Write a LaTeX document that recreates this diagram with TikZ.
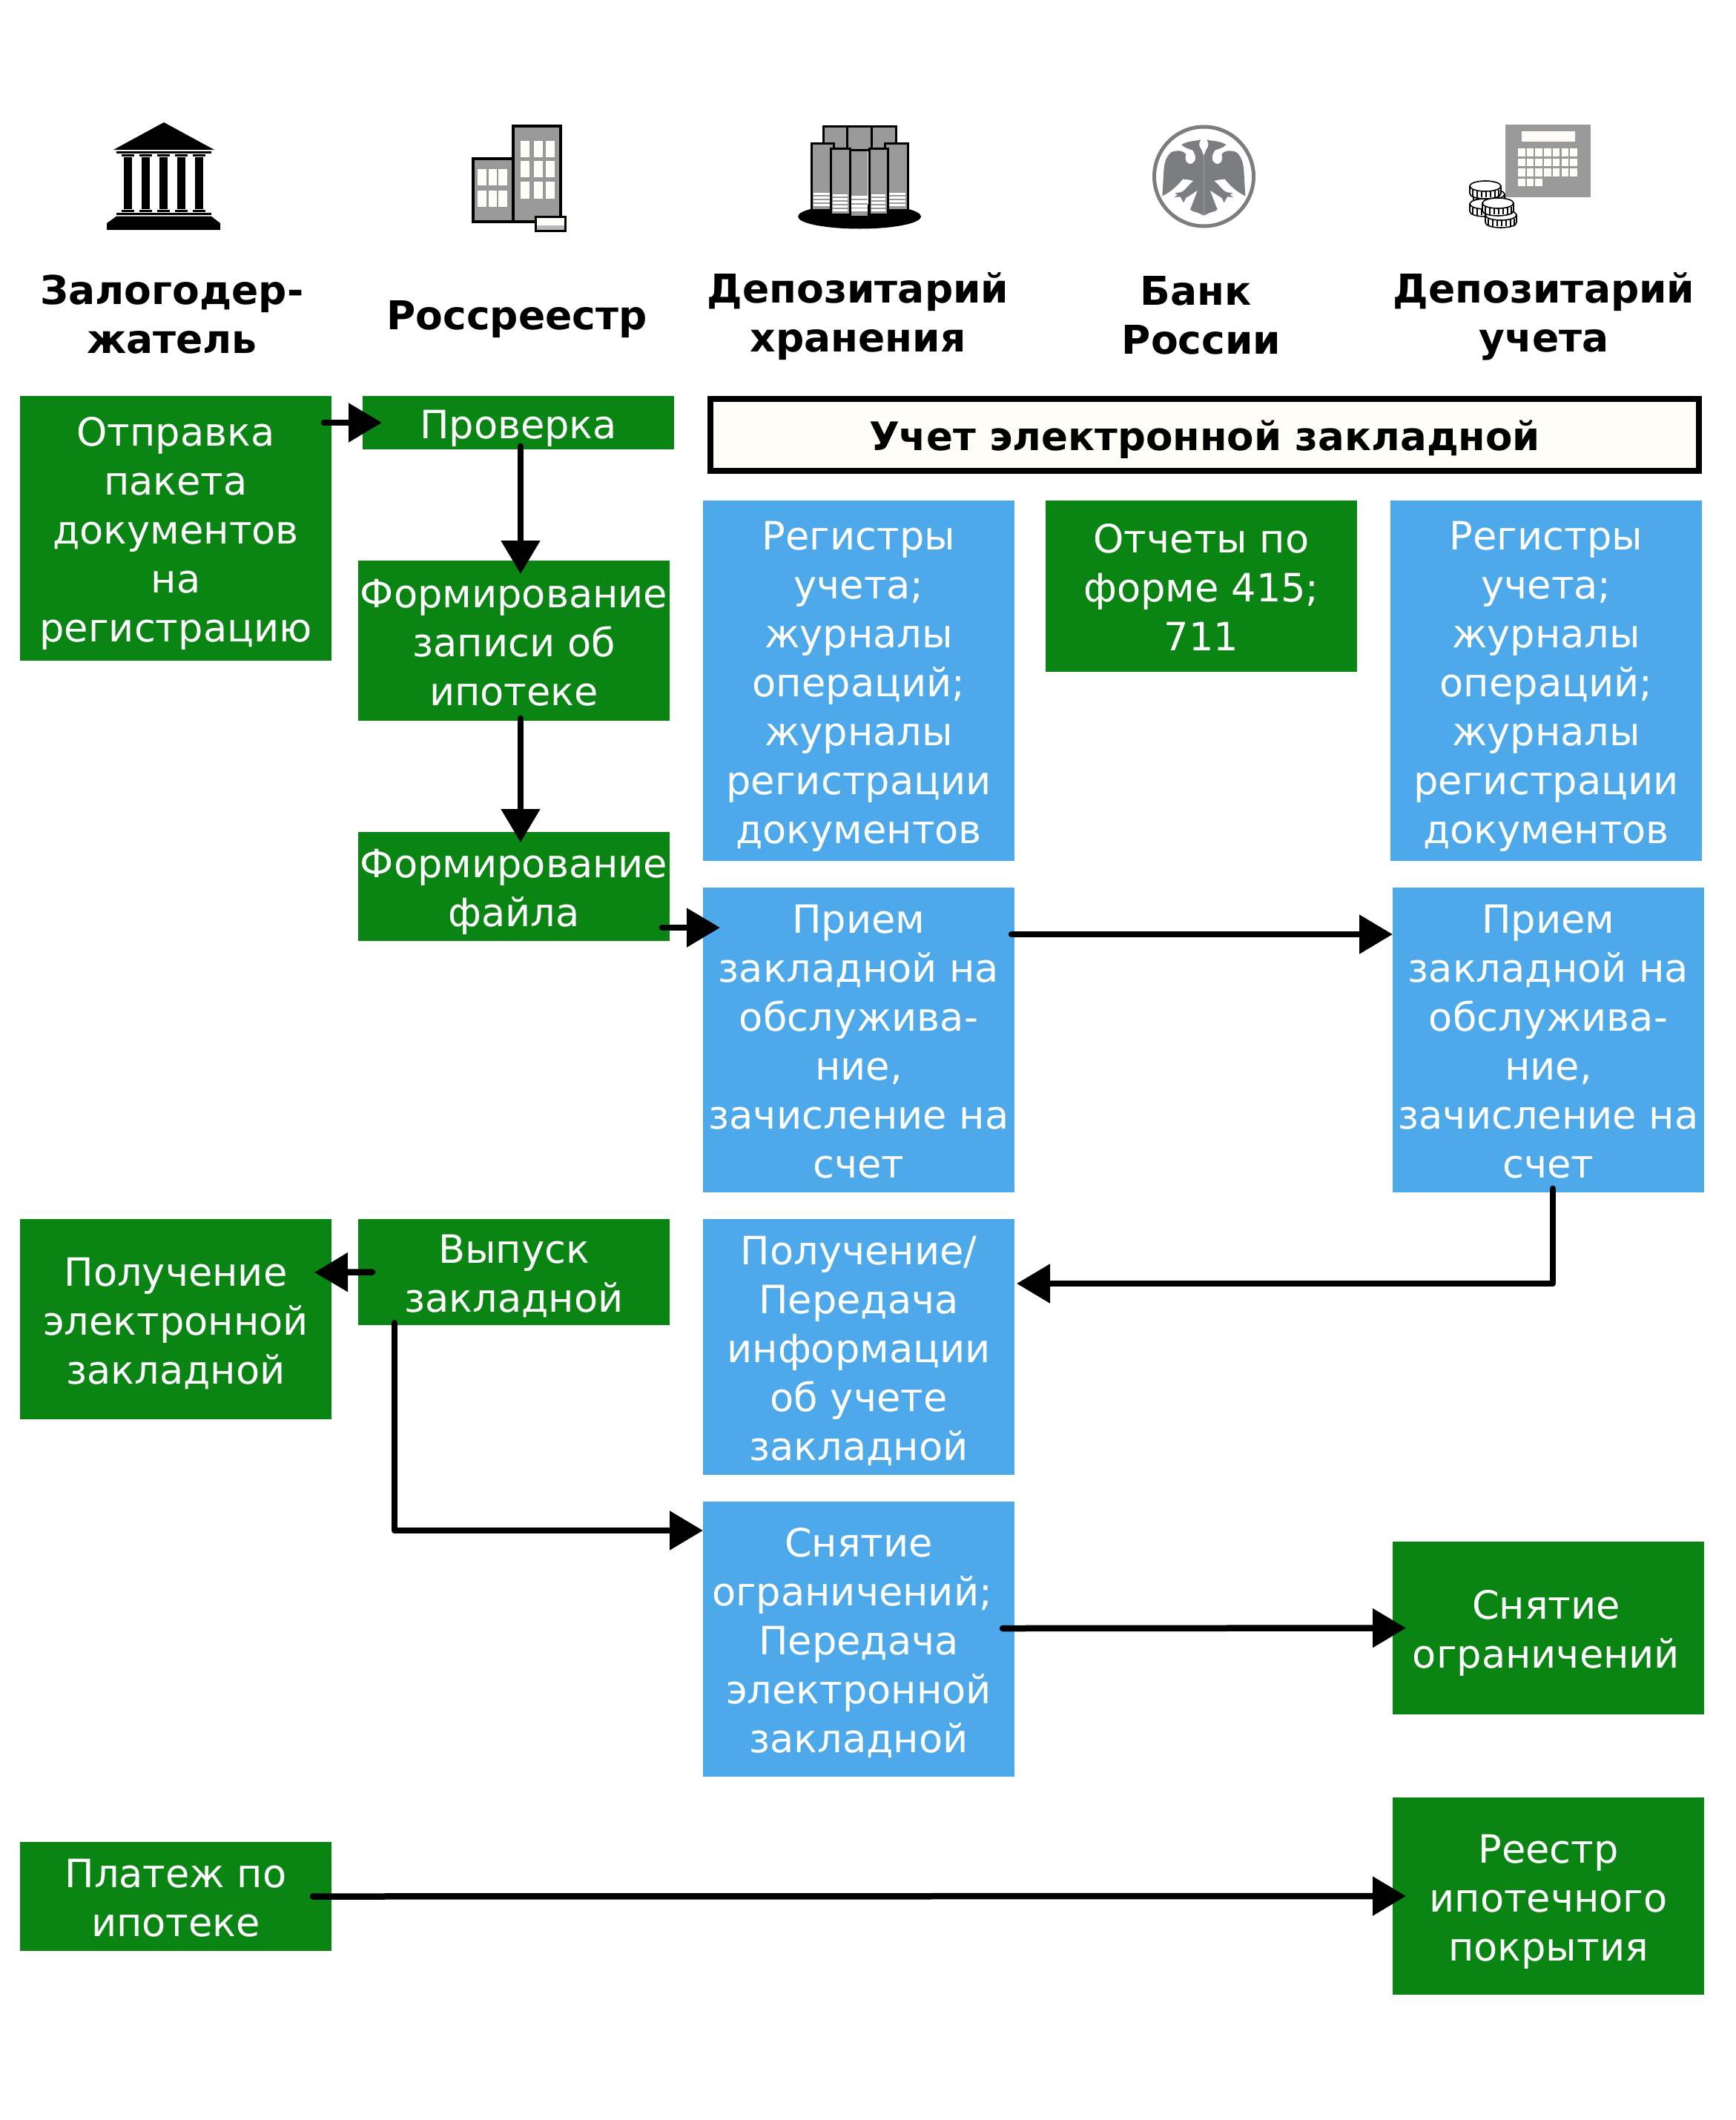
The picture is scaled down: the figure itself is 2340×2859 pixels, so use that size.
\documentclass[tikz,border=0pt]{standalone}
\usepackage{fontspec}
\setmainfont{DejaVu Sans}
\usetikzlibrary{arrows.meta}
\definecolor{grn}{HTML}{0A8412}
\definecolor{blu}{HTML}{4DA9E9}
\definecolor{cream}{HTML}{FFFDF8}
\definecolor{icongray}{HTML}{999999}
\definecolor{emblem}{HTML}{7B7D80}
\newcommand\st{\rule[-12pt]{0pt}{66pt}}
\newcommand\coin[2]{\begin{scope}[shift={(#1,#2)}]
  \filldraw[fill=white,draw=black,line width=1.6pt] (-21,0) -- (-21,10) .. controls (-21,19.3) and (21,19.3) .. (21,10) -- (21,0) -- cycle;
  \foreach \u in {-17,-11,-5,1,7,13,18}{\draw[line width=1.2pt] (\u,5) -- (\u,15);}
  \filldraw[fill=white,draw=black,line width=1.6pt] (0,0) ellipse (21pt and 7pt);
\end{scope}}
\newcommand\eaglehalf{(250,150) -- (240,125) .. controls (230,112) and (228,100) .. (238,85)
  .. controls (215,92) and (190,88) .. (160,105) .. controls (170,118) and (190,122) .. (205,128)
  .. controls (218,145) and (222,170) .. (205,180) .. controls (185,192) and (170,170) .. (178,145)
  .. controls (172,132) and (150,125) .. (120,135) .. controls (98,150) and (90,180) .. (88,210)
  -- (82,313) .. controls (110,300) and (135,280) .. (165,245) .. controls (180,245) and (195,248) .. (208,252)
  .. controls (190,265) and (180,285) .. (160,297) -- (132,302) -- (145,308) -- (130,318) -- (155,316)
  -- (168,340) -- (178,320) .. controls (195,310) and (210,300) .. (225,290)
  -- (195,368) .. controls (205,378) and (225,378) .. (235,385) -- (250,392) -- cycle}
\tikzset{
  x=1pt,y=-1pt,
  txt/.style={font=\fontsize{52.6}{66}\selectfont,align=center,inner sep=0pt,outer sep=0pt},
  grnbox/.style={txt,fill=grn,text=white,minimum width=420pt},
  blubox/.style={txt,fill=blu,text=white,minimum width=420pt},
  head/.style={txt,font=\fontsize{53.5}{66}\selectfont\bfseries,text=black},
  arr/.style={draw=black,line width=8.5pt,line cap=round,line join=round,-{Triangle[length=45pt,width=51pt]}},
  bld/.style={fill=icongray,draw=black,line width=4pt},
  win/.style={fill=cream,draw=none},
}
\begin{document}
\begin{tikzpicture}
\useasboundingbox (0,0) rectangle (2340,2859);
\fill[white] (0,0) rectangle (2340,2859);
% --- temple icon
\fill[black] (221,165) -- (153,202) -- (289,202) -- cycle;
\fill[black] (157,204) rectangle (285,207);
\foreach \c in {172.6,196.5,220.5,244.3,268.3}{
  \fill[black] (\c-8.7,208) rectangle (\c+8.7,211);
  \fill[black] (\c-5.2,212) rectangle (\c+5.2,281.7);
  \fill[black] (\c-8.7,283) rectangle (\c+8.7,286);
}
\fill[black] (157,287.3) rectangle (285,290.3);
\fill[black] (157,291.7) -- (285,291.7) -- (297,301) -- (297,310) -- (144,310) -- (144,301) -- cycle;
% --- building icon
\filldraw[bld] (692,170) rectangle (756,299);
\filldraw[bld] (638,214) rectangle (692,299);
\foreach \xa/\xb in {701.5/713.5,720/732,736/748}
  \foreach \ya/\yb in {190/212,217/239,245/268}
    \fill[win] (\xa,\ya) rectangle (\xb,\yb);
\foreach \xa/\xb in {644/656,658.5/670,672/684}
  \foreach \ya/\yb in {228/250,257/279}
    \fill[win] (\xa,\ya) rectangle (\xb,\yb);
\filldraw[fill=cream,draw=black,line width=3pt] (722.5,292.5) rectangle (762.5,311);
\fill[icongray!70] (724,304) rectangle (761,309.5);
% --- depository icon
\fill[black] (1159,292) ellipse (83pt and 16.5pt);
\foreach \xa/\xb in {1110/1142,1142/1175,1175/1208}
  \filldraw[bld,line width=3pt] (\xa,170) rectangle (\xb,202);
\foreach \xa/\xb/\yb in {1094/1124/283,1193/1224/283}{
  \filldraw[bld,line width=3pt] (\xa,193) rectangle (\xb,\yb);
  \foreach \s in {260,265,270,275}{\fill[white] (\xa+3,\s) rectangle (\xb-3,\s+3);}
}
\foreach \xa/\xb/\yb in {1120/1146/289,1172/1197/289}{
  \filldraw[bld,line width=3pt] (\xa,200) rectangle (\xb,\yb);
  \foreach \s in {262,267,272,277,282}{\fill[white] (\xa+3,\s) rectangle (\xb-3,\s+3);}
}
\fill[icongray] (1148,204) rectangle (1170,291);
\foreach \s in {264,270,276,281}{\fill[white] (1148,\s) rectangle (1170,\s+4);}
% --- emblem
\draw[emblem,line width=5pt] (1623.5,238) circle (67pt);
\begin{scope}[shift={(1540,160)},x=0.3333pt,y=-0.3333pt]
  \fill[emblem] \eaglehalf;
  \begin{scope}[shift={(500,0)},xscale=-1]
    \fill[emblem] \eaglehalf;
  \end{scope}
\end{scope}
% --- calculator with coins
\fill[icongray] (2030,168) rectangle (2145,266);
\fill[cream] (2051.5,177) rectangle (2124,191);
\foreach \ya/\yb in {200/211,214/224,227/238}
  \foreach \k in {0,...,6}
    \fill[cream] (2047+\k*11.7,\ya) rectangle (2056.5+\k*11.7,\yb);
\foreach \k in {0,1,2}
  \fill[cream] (2047+\k*11.7,241) rectangle (2056.5+\k*11.7,251);
\coin{2008}{262}
\coin{2003}{275}
\coin{2003}{251}
\coin{2024}{290}
\coin{2020}{274}
% --- headers
\node[head] (h1) at (232,422) {\st Залогодер-\\жатель\st};
\node[head] (h2) at (697,423) {\st Россреестр\st};
\node[head] (h3) at (1157,420) {\st Депозитарий\\хранения\st};
\node[head] (h4) at (1620,423) {\st Банк\hspace{14pt}\mbox{}\\России\st};
\node[head] (h5) at (2082,420) {\st Депозитарий\\учета\st};
% --- boxes
\node[grnbox,minimum height=357pt] (otp) at (237,712.5) {\st Отправка\\пакета\\документов\\на\\регистрацию\st};
\node[grnbox,minimum height=72pt] (prov) at (699,570) {\st Проверка\st};
\node[grnbox,minimum height=216pt] (form) at (693,864) {\st Формирование\\записи об\\ипотеке\st};
\node[grnbox,minimum height=147pt] (file) at (693,1195.5) {\st Формирование\\файла\st};
\node[grnbox,minimum height=270pt] (pol) at (237,1779) {\st Получение\\электронной\\закладной\st};
\node[grnbox,minimum height=143pt] (vyp) at (693,1715.5) {\st Выпуск\\закладной\st};
\node[grnbox,minimum height=147pt] (plat) at (237,2557.5) {\st Платеж по\\ипотеке\st};
\node[txt,font=\fontsize{53}{66}\selectfont\bfseries,draw=black,line width=8pt,fill=cream,minimum width=1333pt,minimum height=97pt] (ttl) at (1624.5,586.5) {\st Учет электронной закладной\st};
\node[blubox,minimum height=486pt] (reg1) at (1158,918) {\st Регистры\\учета;\\журналы\\операций;\\журналы\\регистрации\\документов\st};
\node[grnbox,minimum height=231pt] (otch) at (1620,790.5) {\st Отчеты по\\форме 415;\\711\st};
\node[blubox,minimum height=486pt] (reg2) at (2085,918) {\st Регистры\\учета;\\журналы\\операций;\\журналы\\регистрации\\документов\st};
\node[blubox,minimum height=411pt] (pr1) at (1158,1402.5) {\st Прием\\закладной на\\обслужива-\\ние,\\зачисление на\\счет\st};
\node[blubox,minimum height=411pt] (pr2) at (2088,1402.5) {\st Прием\\закладной на\\обслужива-\\ние,\\зачисление на\\счет\st};
\node[blubox,minimum height=345pt] (pp) at (1158,1816.5) {\st Получение/\\Передача\\информации\\об учете\\закладной\st};
\node[blubox,minimum height=371pt] (sn1) at (1158,2210.5) {\st Снятие\\ограничений;\hspace{18pt}\mbox{}\\Передача\\электронной\\закладной\st};
\node[grnbox,minimum height=233pt] (sn2) at (2088,2195.5) {\st Снятие\hspace{6pt}\mbox{}\\ограничений\hspace{6pt}\st};
\node[grnbox,minimum height=266pt] (rees) at (2088,2557) {\st Реестр\\ипотечного\\покрытия\st};
% --- connectors
\draw[arr] ([xshift=-10pt]otp.east |- prov.west) -- ([xshift=26pt]prov.west);
\draw[arr] ([shift={(3pt,4pt)}]prov.south) -- ([shift={(9pt,-18pt)}]form.north);
\draw[arr] ([shift={(9pt,3pt)}]form.south) -- ([shift={(9pt,-14pt)}]file.north);
\draw[arr] ([shift={(-10pt,-55.5pt)}]file.east) -- ([shift={(23pt,151.5pt)}]pr1.west);
\draw[arr] ([shift={(-4pt,142.5pt)}]pr1.east) -- ([yshift=142.5pt]pr2.west);
\draw[arr] ([shift={(6pt,5pt)}]pr2.south) |- ([shift={(3pt,85.5pt)}]pp.east);
\draw[arr] ([xshift=19pt]vyp.west) -- ([shift={(-23pt,63pt)}]pol.east);
\draw[arr] ([shift={(-161pt,3pt)}]vyp.south) |- ([yshift=146.5pt]sn1.west);
\draw[arr] ([shift={(-16pt,14.5pt)}]sn1.east) -- ([xshift=18pt]sn2.west);
\draw[arr] ([xshift=-25pt]plat.east) -- ([xshift=18pt]rees.west);
\end{tikzpicture}
\end{document}
